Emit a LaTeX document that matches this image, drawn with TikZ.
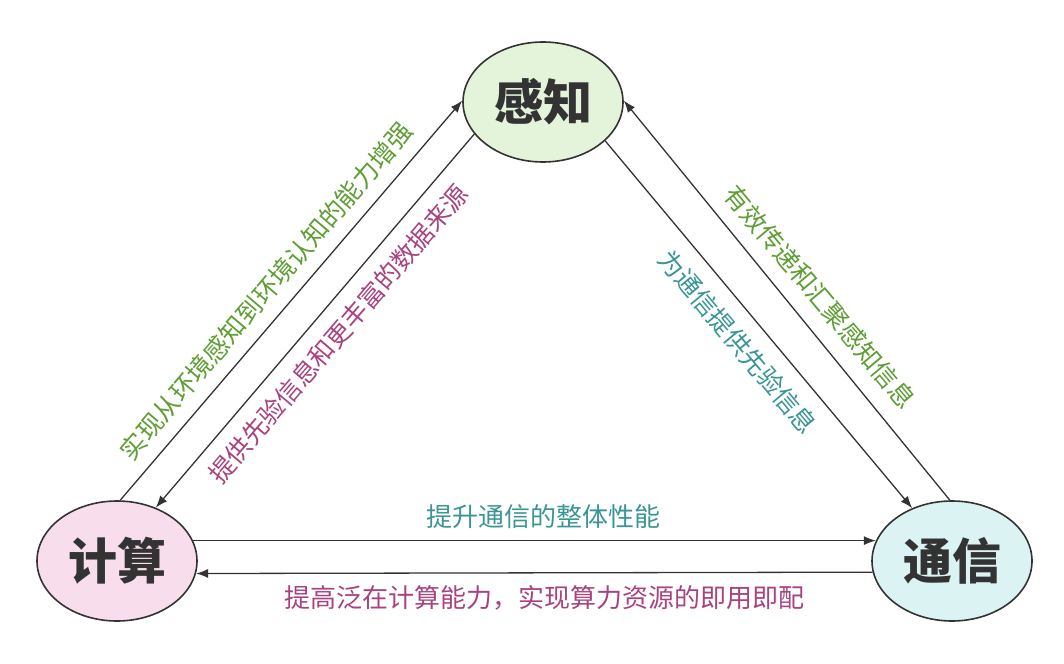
\documentclass[tikz,border=0pt]{standalone}
\usepackage{fontspec}
\setmainfont{Noto Sans CJK SC}
\usetikzlibrary{shapes.geometric,arrows.meta}
\definecolor{lineC}{HTML}{333333}
\definecolor{fillA}{HTML}{E3F4DB}
\definecolor{fillB}{HTML}{F8DDEC}
\definecolor{fillC}{HTML}{DCF3F3}
\definecolor{txtG}{HTML}{5E9E34}
\definecolor{txtP}{HTML}{A8437F}
\definecolor{txtT}{HTML}{3A9595}
\tikzset{
  bigell/.style={ellipse, draw=lineC, line width=1.6pt, minimum width=160pt, minimum height=120pt, inner sep=0pt, font=\fontsize{49}{49}\selectfont\bfseries, text=lineC},
  conn/.style={draw=lineC, line width=1.3pt, -{Latex[length=12pt,width=9pt]}},
  lbl/.style={inner sep=0pt, font=\fontsize{25.5}{25.5}\selectfont},
  hlbl/.style={inner sep=0pt, font=\fontsize{26}{26}\selectfont},
}
\begin{document}
\begin{tikzpicture}[x=1pt,y=-1pt]
\useasboundingbox (0,0) rectangle (1064,663);
\node[bigell, fill=fillA] (gz) at (543,102) {感知};
\node[bigell, fill=fillB] (js) at (117,561) {计算};
\node[bigell, fill=fillC] (tx) at (952,561) {通信};

\draw[conn] (js.87) -- (gz.179);
\draw[conn] (gz.205) -- (js.54);
\draw[conn] (gz.328) -- (tx.127);
\draw[conn] (tx.92) -- (gz.1);
\draw[conn] (js.15) -- (tx.165);
\draw[conn] (tx.188.7) -- (js.351.3);

\node[lbl, text=txtG, rotate=49.5] (l1) at (266,291) {实现从环境感知到环境认知的能力增强};
\node[lbl, text=txtP, rotate=49.5] (l2) at (338,334) {提供先验信息和更丰富的数据来源};
\node[lbl, text=txtG, rotate=-50] (l3) at (820,297) {有效传递和汇聚感知信息};
\node[lbl, text=txtT, rotate=-50] (l4) at (738,342) {为通信提供先验信息};
\node[hlbl, text=txtT] (l5) at (543,517) {提升通信的整体性能};
\node[hlbl, text=txtP] (l6) at (544,598) {提高泛在计算能力，实现算力资源的即用即配};
\end{tikzpicture}
\end{document}
